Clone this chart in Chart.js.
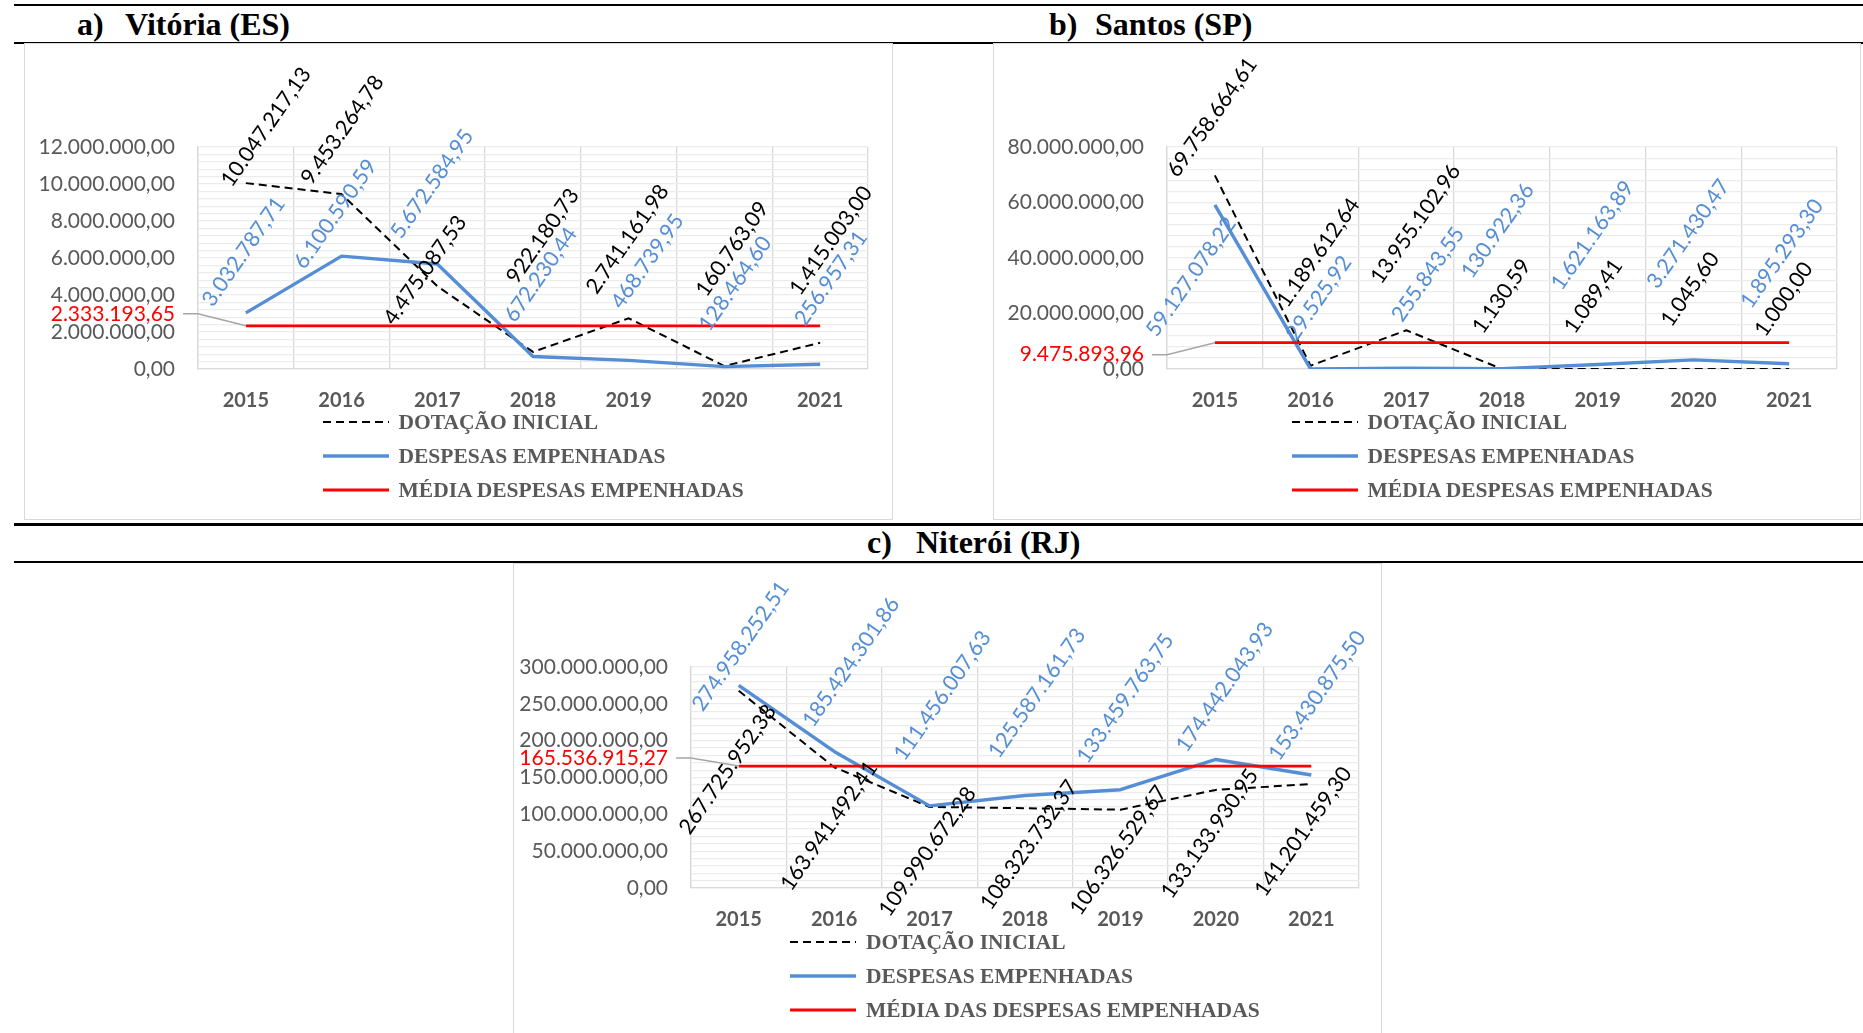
<!DOCTYPE html>
<html lang="pt-BR">
<head>
<meta charset="utf-8">
<title>Dotação inicial x despesas empenhadas</title>
<script src="https://cdn.jsdelivr.net/npm/chart.js@4.4.1/dist/chart.umd.min.js"></script>
<style>
    html, body { margin: 0; padding: 0; background: #fff; }
    body { position: relative; width: 1863px; height: 1033px; overflow: hidden; }
    .linha { position: absolute; left: 14px; right: 0; background: #000; }
    .titulo { position: absolute; font: bold 32px 'Liberation Serif', 'Times New Roman', serif; color: #000; white-space: nowrap; line-height: 1; }
    .caixa { position: absolute; border: 1.5px solid #d9d9d9; box-sizing: border-box; }
    canvas { position: absolute; }
    .legenda { position: absolute; font: bold 21.5px 'Liberation Serif', 'Times New Roman', serif; color: #595959; }
    .legenda .item { display: flex; align-items: center; height: 34px; white-space: nowrap; }
    .legenda svg { flex: none; margin-right: 10px; }
</style>
</head>
<body>

<div class="linha" style="top:4px;height:2px"></div>
<div class="linha" style="top:42px;height:2px"></div>
<div class="linha" style="top:523px;height:2.5px"></div>
<div class="linha" style="top:561px;height:2px"></div>

<span class="titulo" style="left:77px;top:8px">a)</span>
<span class="titulo" style="left:125px;top:8px">Vitória (ES)</span>
<span class="titulo" style="left:1049px;top:8px">b)</span>
<span class="titulo" style="left:1095px;top:8px">Santos (SP)</span>
<span class="titulo" style="left:867px;top:526px">c)</span>
<span class="titulo" style="left:916px;top:526px">Niterói (RJ)</span>

<div class="caixa" style="left:24px;top:43px;width:869px;height:477px"></div>
<div class="caixa" style="left:993px;top:43px;width:868px;height:477px"></div>
<div class="caixa" style="left:513px;top:563px;width:869px;height:480px"></div>

<canvas id="graficoVitoria" width="869" height="477" style="left:24px;top:43px"></canvas>
<canvas id="graficoSantos" width="868" height="477" style="left:993px;top:43px"></canvas>
<canvas id="graficoNiteroi" width="869" height="470" style="left:513px;top:563px"></canvas>

<script>
/* Dotação inicial x despesas empenhadas (2015-2021) */

const anos = ['2015', '2016', '2017', '2018', '2019', '2020', '2021'];

// a) Vitória (ES)
const vitoriaDotacao = [10047217.13, 9453264.78, 4475087.53, 922180.73, 2741161.98, 160763.09, 1415003.00];
const vitoriaDespesas = [3032787.71, 6100590.59, 5672584.95, 672230.44, 468739.95, 128464.60, 256957.31];
const vitoriaMedia = [2333193.65, 2333193.65, 2333193.65, 2333193.65, 2333193.65, 2333193.65, 2333193.65];

// b) Santos (SP)
const santosDotacao = [69758664.61, 1189612.64, 13955102.96, 1130.59, 1089.41, 1045.60, 1000.00];
const santosDespesas = [59127078.22, 29525.92, 255843.55, 130922.36, 1621163.89, 3271430.47, 1895293.30];
const santosMedia = [9475893.96, 9475893.96, 9475893.96, 9475893.96, 9475893.96, 9475893.96, 9475893.96];

// c) Niterói (RJ)
const niteroiDotacao = [267725952.38, 163941492.41, 109990672.28, 108323732.37, 106326529.67, 133133930.95, 141201459.30];
const niteroiDespesas = [274958252.51, 185424301.86, 111456007.63, 125587161.73, 133459763.75, 174442043.93, 153430875.50];
const niteroiMedia = [165536915.27, 165536915.27, 165536915.27, 165536915.27, 165536915.27, 165536915.27, 165536915.27];

// escalas do eixo Y: [máximo, passo dos rótulos, passo das linhas de grade]
const eixoVitoria = [12000000, 2000000, 400000];
const eixoSantos = [80000000, 20000000, 4000000];
const eixoNiteroi = [300000000, 50000000, 10000000];

// ajuste manual dos rótulos (px, relativo ao ponto), como no original
const desloc = {
    vitoriaDot: [[-14, 5], [-30, -8], [-43, 40], [-16, -67], [-32, -23], [-18, -68], [-20, -46]],
    vitoriaDesp: [[-33, -5], [-37, 14], [-36, -24], [-18, -33], [-7, -50], [-15, -34], [-15, -37]],
    santosDot: [[-37, 3], [-23, -57], [-25, -45], [-19, -34], [-23, -34], [-22, -41], [-24, -31]],
    santosDesp: [[-58, 133], [-14, -27], [-4, -45], [-30, -89], [-36, -73], [-36, -70], [-38, -54]],
    niteroiDot: [[-49, 145], [-43, 125], [-40, 111], [-34, 103], [-40, 107], [-44, 110], [-46, 114]],
    niteroiDesp: [[-36, 27], [-21, -23], [-25, -44], [-26, -36], [-33, -25], [-29, -6], [-32, -13]]
};

const AZUL = '#558ed5';
const ANGULO = 55 * Math.PI / 180;

function formatarBR(v) {
    const [inteiro, dec] = Math.abs(v).toFixed(2).split('.');
    return inteiro.replace(/\B(?=(\d{3})+(?!\d))/g, '.') + ',' + dec;
}

// rótulos girados + rótulo da média com linha de chamada
const pluginRotulos = {
    id: 'rotulos',
    afterDatasetsDraw(chart, args, opts) {
        const ctx = chart.ctx;
        const xs = chart.scales.x;
        const ys = chart.scales.y;
        const area = chart.chartArea;

        ctx.save();
        ctx.font = '21.5px Lato';
        ctx.textAlign = 'left';
        ctx.textBaseline = 'alphabetic';
        opts.series.forEach(s => {
            ctx.fillStyle = s.cor;
            chart.data.datasets[s.dataset].data.forEach((v, i) => {
                const [dx, dy] = s.desloc[i];
                ctx.save();
                ctx.translate(xs.getPixelForValue(i) + dx, ys.getPixelForValue(v) + dy);
                ctx.rotate(-ANGULO);
                ctx.fillText(formatarBR(v), 0, 0);
                ctx.restore();
            });
        });

        const m = chart.data.datasets[2].data[0];
        const px = xs.getPixelForValue(0);
        const py = ys.getPixelForValue(m);
        const ly = py + opts.mediaDy;
        const lx = area.left - 23;
        ctx.strokeStyle = '#a6a6a6';
        ctx.lineWidth = 1.5;
        ctx.beginPath();
        ctx.moveTo(lx + 8, ly);
        ctx.lineTo(area.left, ly);
        ctx.lineTo(px, py);
        ctx.stroke();
        ctx.font = '21px Lato';
        ctx.fillStyle = '#ff0000';
        ctx.textAlign = 'right';
        ctx.textBaseline = 'middle';
        ctx.fillText(formatarBR(m), lx, ly);
        ctx.restore();
    }
};

function criarGrafico(cfg) {
    const [maximo, passoMaior, passoMenor] = cfg.eixo;
    const canvas = document.getElementById(cfg.id);

    const chart = new Chart(canvas, {
        type: 'line',
        data: {
            labels: anos,
            datasets: [
                { label: 'DOTAÇÃO INICIAL', data: cfg.dotacao, borderColor: '#000000', borderWidth: 2, borderDash: [8, 5], order: 3 },
                { label: 'DESPESAS EMPENHADAS', data: cfg.despesas, borderColor: AZUL, borderWidth: 3.4, order: 2 },
                { label: cfg.rotuloMedia, data: cfg.media, borderColor: '#ff0000', borderWidth: 2.8, order: 1 }
            ]
        },
        options: {
            responsive: false,
            animation: false,
            events: [],
            elements: {
                point: { radius: 0 },
                line: { tension: 0, fill: false, borderJoinStyle: 'round' }
            },
            layout: { padding: { top: 104, left: 0, right: cfg.padDireita, bottom: 0 } },
            plugins: {
                legend: { display: false },
                tooltip: { enabled: false },
                rotulos: {
                    series: [
                        { dataset: 0, cor: '#000000', desloc: cfg.deslocDot },
                        { dataset: 1, cor: AZUL, desloc: cfg.deslocDesp }
                    ],
                    mediaDy: cfg.mediaDy
                }
            },
            scales: {
                x: {
                    offset: true,
                    grid: { offset: true, color: '#d9d9d9', lineWidth: 1.3, drawTicks: false },
                    border: { color: '#d9d9d9', width: 1.3 },
                    ticks: { color: '#595959', padding: 20, font: { family: 'Lato', size: 20, weight: 'bold' } },
                    afterFit: s => { s.height = cfg.alturaX; }
                },
                y: {
                    min: 0,
                    max: maximo,
                    grid: { color: '#ececec', lineWidth: 1.2, drawTicks: false },
                    border: { color: '#d9d9d9', width: 1.3 },
                    ticks: {
                        stepSize: passoMenor,
                        autoSkip: false,
                        padding: 23,
                        color: '#595959',
                        font: { family: 'Lato', size: 21 },
                        callback: v => Math.abs(v / passoMaior - Math.round(v / passoMaior)) < 1e-6 ? formatarBR(v) : ''
                    },
                    afterFit: s => { s.width = cfg.larguraY; }
                }
            }
        },
        plugins: [pluginRotulos]
    });

    criarLegenda(chart, cfg.caixa);
    return chart;
}

// legenda em coluna, centrada na área do gráfico
function criarLegenda(chart, caixa) {
    const div = document.createElement('div');
    div.className = 'legenda';
    div.innerHTML = chart.data.datasets.map(ds => `
        <div class="item">
            <svg width="66" height="6"><line x1="0" y1="3" x2="66" y2="3" stroke="${ds.borderColor}"
                stroke-width="${ds.borderWidth}" stroke-dasharray="${ds.borderDash ? ds.borderDash.join(' ') : 'none'}"/></svg>
            <span>${ds.label}</span>
        </div>
    `).join('');
    document.body.appendChild(div);
    const area = chart.chartArea;
    div.style.top = (caixa[1] + 362) + 'px';
    div.style.left = (caixa[0] + (area.left + area.right) / 2 - div.offsetWidth / 2) + 'px';
}

criarGrafico({
    id: 'graficoVitoria', caixa: [24, 43],
    dotacao: vitoriaDotacao, despesas: vitoriaDespesas, media: vitoriaMedia,
    rotuloMedia: 'MÉDIA DESPESAS EMPENHADAS', eixo: eixoVitoria,
    larguraY: 174, alturaX: 151, padDireita: 25, mediaDy: -12,
    deslocDot: desloc.vitoriaDot, deslocDesp: desloc.vitoriaDesp
});

criarGrafico({
    id: 'graficoSantos', caixa: [993, 43],
    dotacao: santosDotacao, despesas: santosDespesas, media: santosMedia,
    rotuloMedia: 'MÉDIA DESPESAS EMPENHADAS', eixo: eixoSantos,
    larguraY: 174, alturaX: 151, padDireita: 24, mediaDy: 12,
    deslocDot: desloc.santosDot, deslocDesp: desloc.santosDesp
});

criarGrafico({
    id: 'graficoNiteroi', caixa: [513, 563],
    dotacao: niteroiDotacao, despesas: niteroiDespesas, media: niteroiMedia,
    rotuloMedia: 'MÉDIA DAS DESPESAS EMPENHADAS', eixo: eixoNiteroi,
    larguraY: 178, alturaX: 145, padDireita: 23, mediaDy: -8,
    deslocDot: desloc.niteroiDot, deslocDesp: desloc.niteroiDesp
});
</script>
</body>
</html>
